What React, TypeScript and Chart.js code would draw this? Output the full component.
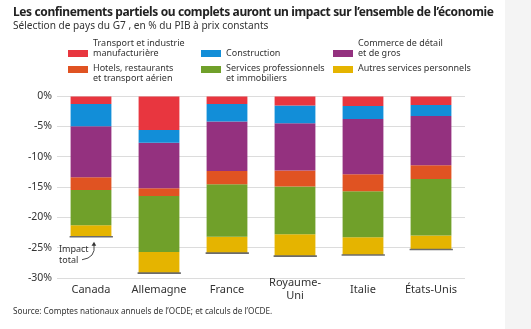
import React, { useEffect, useRef } from "react";
import { Chart, registerables } from "chart.js";

Chart.register(...registerables);

const categories: (string | string[])[] = ["Canada", "Allemagne", "France", ["Royaume-", "Uni"], "Italie", "États-Unis"];

const transport = [-1.3, -5.6, -1.3, -1.55, -1.65, -1.5];
const construction = [-3.7, -2.1, -2.9, -2.95, -2.15, -1.8];
const commerce = [-8.4, -7.5, -8.15, -7.8, -9.1, -8.1];
const hotels = [-2.1, -1.3, -2.2, -2.6, -2.8, -2.3];
const servicesPro = [-5.8, -9.2, -8.65, -7.9, -7.6, -9.3];
const autres = [-1.9, -3.5, -2.7, -3.6, -2.9, -2.3];

const yTicks = [0, -5, -10, -15, -20, -25, -30];

const seriesNames = [
  "Transport  et industrie manufacturière",
  "Construction",
  "Commerce de détail et de gros",
  "Hotels, restaurants et transport aérien",
  "Services professionnels et immobiliers",
  "Autres services personnels",
];

const COLORS = {
  red: "#e8363f",
  blue: "#128ed8",
  purple: "#94317f",
  orange: "#e05322",
  green: "#70a02a",
  yellow: "#e5b400",
};

const FONT = "'Noto Sans', 'Open Sans', sans-serif";

const totalsPlugin = {
  id: "totals",
  afterDatasetsDraw(chart: any) {
    const ctx = chart.ctx;
    const y = chart.scales.y;
    const meta = chart.getDatasetMeta(0);
    const n = categories.length;
    ctx.save();
    for (let i = 0; i < n; i++) {
      let total = 0;
      chart.data.datasets.forEach((ds: any) => (total += ds.data[i]));
      const bar = meta.data[i];
      const half = bar.width / 2;
      const py = y.getPixelForValue(total);
      ctx.strokeStyle = "#6b6b6b";
      ctx.lineWidth = 1.6;
      ctx.beginPath();
      ctx.moveTo(bar.x - half - 1, py);
      ctx.lineTo(bar.x + half + 1.5, py);
      ctx.stroke();
      if (i === 0) {
        const tipX = bar.x + 3;
        const tipY = py + 5;
        ctx.strokeStyle = "#333";
        ctx.fillStyle = "#333";
        ctx.lineWidth = 0.9;
        ctx.beginPath();
        ctx.moveTo(tipX - 12, tipY + 18);
        ctx.quadraticCurveTo(tipX + 2, tipY + 16, tipX, tipY + 3);
        ctx.stroke();
        ctx.beginPath();
        ctx.moveTo(tipX, tipY);
        ctx.lineTo(tipX - 2.5, tipY + 4);
        ctx.lineTo(tipX + 2.2, tipY + 4);
        ctx.closePath();
        ctx.fill();
        ctx.font = `9px ${FONT}`;
        ctx.textAlign = "left";
        ctx.textBaseline = "middle";
        ctx.fillStyle = "#333";
        ctx.fillText("Impact", tipX - 35, tipY + 8);
        ctx.fillText("total", tipX - 35, tipY + 19);
      }
    }
    ctx.restore();
  },
};

function ChartCanvas() {
  const ref = useRef<HTMLCanvasElement | null>(null);
  useEffect(() => {
    if (!ref.current) return;
    const mk = (label: string, data: number[], color: string) => ({
      label,
      data,
      backgroundColor: color,
      borderWidth: 0,
      barPercentage: 0.6,
      categoryPercentage: 1,
    });
    const chart = new Chart(ref.current, {
      type: "bar",
      data: {
        labels: categories as any,
        datasets: [
          mk(seriesNames[0], transport, COLORS.red),
          mk(seriesNames[1], construction, COLORS.blue),
          mk(seriesNames[2], commerce, COLORS.purple),
          mk(seriesNames[3], hotels, COLORS.orange),
          mk(seriesNames[4], servicesPro, COLORS.green),
          mk(seriesNames[5], autres, COLORS.yellow),
        ],
      },
      options: {
        responsive: false,
        animation: false,
        devicePixelRatio: 1,
        layout: { padding: { top: 96, right: 40, left: 0, bottom: 0 } },
        plugins: {
          legend: { display: false },
          tooltip: { enabled: false },
          title: { display: false },
        },
        scales: {
          x: {
            stacked: true,
            grid: { display: false, drawTicks: false },
            border: { display: false },
            ticks: {
              color: "#333",
              font: { family: FONT, size: 11 },
              padding: 5,
              crossAlign: "center" as any,
              maxRotation: 0,
              autoSkip: false,
            },
            afterFit: (s: any) => {
              s.height = 51;
            },
          },
          y: {
            stacked: true,
            min: -30,
            max: 0,
            afterBuildTicks: (s: any) => {
              s.ticks = yTicks.map((v) => ({ value: v }));
            },
            grid: { color: "#dcdcdc", lineWidth: 1, drawTicks: false },
            border: { display: false },
            ticks: {
              color: "#333",
              font: { family: FONT, size: 10.5 },
              padding: 5,
              callback: (v: any) => `${v}%`,
            },
            afterFit: (s: any) => {
              s.width = 57;
            },
          },
        },
      },
      plugins: [totalsPlugin],
    });
    return () => chart.destroy();
  }, []);
  return <canvas ref={ref} width={505} height={329} style={{ position: "absolute", left: 0, top: 0 }} />;
}

const legendRows = [
  { color: COLORS.red, lines: ["Transport  et industrie", "manufacturière"], x: 68, textTop: 38, swatchY: 49.5 },
  { color: COLORS.blue, lines: ["Construction"], x: 201, textTop: 48, swatchY: 49.5 },
  { color: COLORS.purple, lines: ["Commerce de détail", "et de gros"], x: 333, textTop: 38, swatchY: 49.5 },
  { color: COLORS.orange, lines: ["Hotels, restaurants", "et transport aérien"], x: 68, textTop: 63, swatchY: 66 },
  { color: COLORS.green, lines: ["Services professionnels", "et immobiliers"], x: 201, textTop: 63, swatchY: 66 },
  { color: COLORS.yellow, lines: ["Autres services personnels"], x: 333, textTop: 63, swatchY: 66 },
];

export default function App() {
  return (
    <div
      style={{
        position: "fixed",
        left: 0,
        top: 0,
        width: 531,
        height: 329,
        background: "#f4f4f4",
        fontFamily: FONT,
        color: "#333",
      }}
    >
      <div style={{ position: "absolute", left: 0, top: 0, width: 505, height: 329, background: "#fff" }}>
        <ChartCanvas />
        <div
          style={{
            position: "absolute",
            left: 13,
            top: 3,
            fontSize: 12,
            lineHeight: "18px",
            fontWeight: 700,
            letterSpacing: "-0.38px",
            color: "#222",
            whiteSpace: "nowrap",
          }}
        >
          Les confinements partiels ou complets auront un impact sur l’ensemble de l’économie
        </div>
        <div
          style={{
            position: "absolute",
            left: 13,
            top: 18,
            fontSize: 10.1,
            lineHeight: "15px",
            color: "#333",
            whiteSpace: "nowrap",
          }}
        >
          Sélection de pays du G7 , en % du PIB à prix constants
        </div>
        {legendRows.map((r, i) => (
          <React.Fragment key={i}>
            <div
              style={{
                position: "absolute",
                left: r.x,
                top: r.swatchY,
                width: 20,
                height: 7,
                background: r.color,
              }}
            />
            <div
              style={{
                position: "absolute",
                left: r.x + 25,
                top: r.textTop,
                fontSize: 9,
                lineHeight: "10px",
                color: "#333",
                whiteSpace: "nowrap",
              }}
            >
              {r.lines.map((l, j) => (
                <div key={j}>{l}</div>
              ))}
            </div>
          </React.Fragment>
        ))}
        <div
          style={{
            position: "absolute",
            left: 13,
            top: 305,
            fontSize: 8.2,
            lineHeight: "12px",
            color: "#333",
            whiteSpace: "nowrap",
          }}
        >
          Source: Comptes nationaux annuels de l’OCDE; et calculs de l’OCDE.
        </div>
      </div>
    </div>
  );
}
